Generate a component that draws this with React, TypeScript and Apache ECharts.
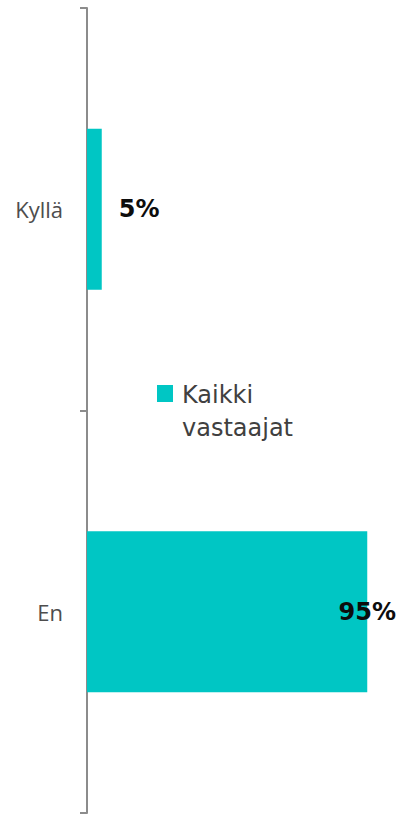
import React, { useEffect, useRef } from "react";
import * as echarts from "echarts";

const categories = ["Kyllä", "En"];
const seriesName = "Kaikki vastaajat";
const values = [5, 95];
const legendLines = ["Kaikki", "vastaajat"];

const BAR_COLOR = "#00C6C4";
const FONT = "DejaVu Sans";

export default function App() {
  const ref = useRef<HTMLDivElement>(null);

  useEffect(() => {
    if (!ref.current) return;
    const chart = echarts.init(ref.current, null, { renderer: "svg" });
    const data = values.map((v, i) => ({
      value: v,
      label:
        i === 0
          ? { position: "right", distance: 17 }
          : { position: ["100%", "50%"], align: "center", verticalAlign: "middle" },
    }));
    chart.setOption({
      animation: false,
      grid: { left: 87, right: 21, top: 8, bottom: 4, containLabel: false },
      xAxis: {
        type: "value",
        min: 0,
        max: 100,
        show: false,
      },
      yAxis: {
        type: "category",
        data: categories,
        inverse: true,
        axisLine: { show: true, lineStyle: { color: "#8C8C8C", width: 2 } },
        axisTick: { show: true, length: 7, lineStyle: { color: "#8C8C8C", width: 2 } },
        axisLabel: { color: "#4D4D4D", fontSize: 22, fontFamily: "Open Sans", margin: 24 },
        splitLine: { show: false },
      },
      legend: { show: false },
      series: [
        {
          name: seriesName,
          type: "bar",
          data,
          barWidth: "40%",
          itemStyle: { color: BAR_COLOR },
          label: {
            show: true,
            formatter: "{c}%",
            color: "#0D0D0D",
            fontSize: 24,
            fontWeight: "bold",
            fontFamily: FONT,
          },
        },
      ],
      graphic: [
        {
          type: "rect",
          left: 157,
          top: 385,
          shape: { width: 16, height: 17 },
          style: { fill: BAR_COLOR },
        },
        {
          type: "text",
          left: 182,
          top: 378,
          style: {
            text: legendLines.join("\n"),
            fill: "#404040",
            fontSize: 24,
            fontFamily: FONT,
            lineHeight: 33,
          },
        },
      ],
    });
    return () => chart.dispose();
  }, []);

  return <div ref={ref} style={{ width: 403, height: 817, position: "absolute", left: 0, top: 0 }} />;
}
